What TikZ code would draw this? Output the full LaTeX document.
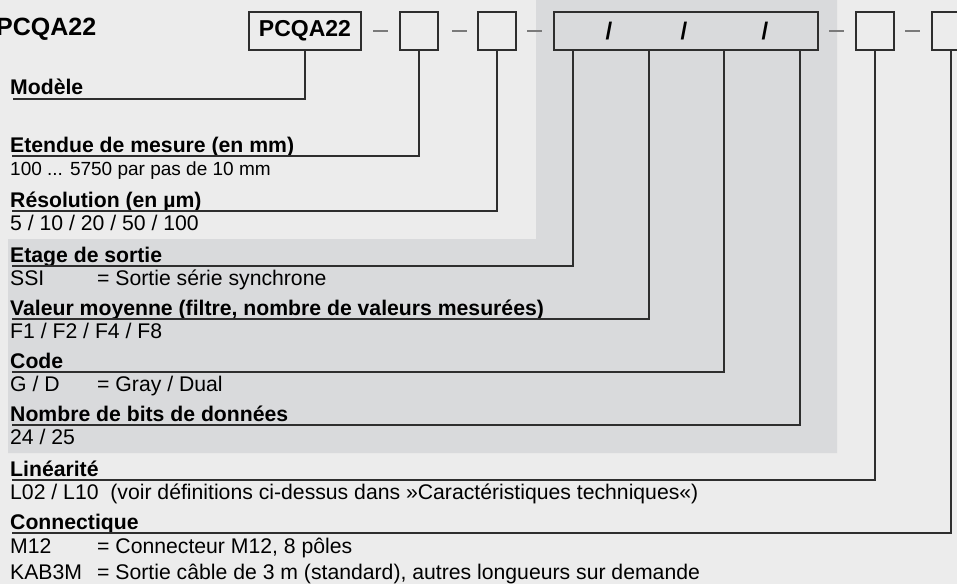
\documentclass[tikz,border=0pt]{standalone}
\usepackage{fontspec}
\setmainfont{Liberation Sans}
\definecolor{bgl}{HTML}{ECECEC}
\definecolor{bgd}{HTML}{D9DADC}
\definecolor{ln}{HTML}{2E2E2E}
\definecolor{dsh}{HTML}{7A7A7A}
\tikzset{
  codebox/.style={draw=ln, line width=1.1pt, fill=bgl, minimum width=38pt, minimum height=38pt, inner sep=0pt, outer sep=0pt},
  hdr/.style={anchor=base west, inner sep=0pt, font=\bfseries\fontsize{21.2}{25}\selectfont},
  txt/.style={anchor=base west, inner sep=0pt, font=\fontsize{21.2}{25}\selectfont},
  conn/.style={draw=ln, line width=1.2pt},
  sep/.style={draw=dsh, line width=1.4pt},
  slash/.style={inner sep=0pt, font=\bfseries\fontsize{24}{28}\selectfont}
}
\begin{document}
\begin{tikzpicture}[x=1pt,y=-1pt]
\fill[bgl] (0,0) rectangle (957,584);
\useasboundingbox (0,0) rectangle (957,584);
\fill[bgd] (536,0) -- (837,0) -- (837,453) -- (8,453) -- (8,239) -- (536,239) -- cycle;

% title
\node[anchor=base west, inner sep=0pt, font=\bfseries\fontsize{25}{30}\selectfont] (title) at (-4,35) {PCQA22};

% code boxes
\node[codebox, minimum width=112pt, font=\bfseries\fontsize{23}{27}\selectfont] (pc) at (305,31) {PCQA22};
\node[codebox] (b2) at (419,31) {};
\node[codebox] (b3) at (497,31) {};
\node[codebox, fill=bgd, minimum width=264pt] (big) at (686,31) {};
\node[codebox] (b5) at (875,31) {};
\node[codebox] (b6) at (951,31) {};
\node[slash] (s1) at (609,31) {/};
\node[slash] (s2) at (684,31) {/};
\node[slash] (s3) at (765,31) {/};

% separators
\draw[sep] ([xshift=12pt]pc.east) -- ++(15,0);
\draw[sep] ([xshift=14pt]b2.east) -- ++(15,0);
\draw[sep] ([xshift=11pt]b3.east) -- ++(15,0);
\draw[sep] ([xshift=11pt]big.east) -- ++(15,0);
\draw[sep] ([xshift=11pt]b5.east) -- ++(15,0);

% labels
\node[hdr] (h1) at (10,94) {Modèle};
\node[hdr] (h2) at (10,152) {Etendue de mesure (en mm)};
\node[txt, font=\fontsize{19}{23}\selectfont] (t2) at (10,175) {100 ... 5750 par pas de 10 mm};
\node[hdr] (h3) at (10,207) {Résolution (en µm)};
\node[txt] (t3) at (10,230) {5 / 10 / 20 / 50 / 100};
\node[hdr] (h4) at (10,262) {Etage de sortie};
\node[txt] (t4a) at (10,285) {SSI};
\node[txt] (t4b) at (97,285) {= Sortie série synchrone};
\node[hdr] (h5) at (10,315) {Valeur moyenne (filtre, nombre de valeurs mesurées)};
\node[txt] (t5) at (10,338) {F1 / F2 / F4 / F8};
\node[hdr] (h6) at (10,368) {Code};
\node[txt] (t6a) at (10,391) {G / D};
\node[txt] (t6b) at (97,391) {= Gray / Dual};
\node[hdr] (h7) at (10,421) {Nombre de bits de données};
\node[txt] (t7) at (10,444) {24 / 25};
\node[hdr] (h8) at (10,476) {Linéarité};
\node[txt] (t8) at (10,499) {L02 / L10\ \ (voir définitions ci-dessus dans »Caractéristiques techniques«)};
\node[hdr] (h9) at (10,529) {Connectique};
\node[txt] (t9a) at (10,553) {M12};
\node[txt] (t9b) at (97,553) {= Connecteur M12, 8 pôles};
\node[txt] (t9c) at (10,579) {KAB3M};
\node[txt] (t9d) at (97,579) {= Sortie câble de 3 m (standard), autres longueurs sur demande};

% underline ends
\coordinate (u1) at (13,99);
\coordinate (u2) at (12,156);
\coordinate (u3) at (12,211);
\coordinate (u4) at (12,266);
\coordinate (u5) at (12,319);
\coordinate (u6) at (12,372);
\coordinate (u7) at (12,425);
\coordinate (u8) at (12,480);
\coordinate (u9) at (12,533);

% connectors
\draw[conn] (pc.south) |- (u1);
\draw[conn] (b2.south) |- (u2);
\draw[conn] (b3.south) |- (u3);
\draw[conn] ([xshift=19pt]big.south west) |- (u4);
\draw[conn] ([xshift=95pt]big.south west) |- (u5);
\draw[conn] ([xshift=170pt]big.south west) |- (u6);
\draw[conn] ([xshift=246pt]big.south west) |- (u7);
\draw[conn] (b5.south) |- (u8);
\draw[conn] (b6.south) |- (u9);
\end{tikzpicture}
\end{document}
